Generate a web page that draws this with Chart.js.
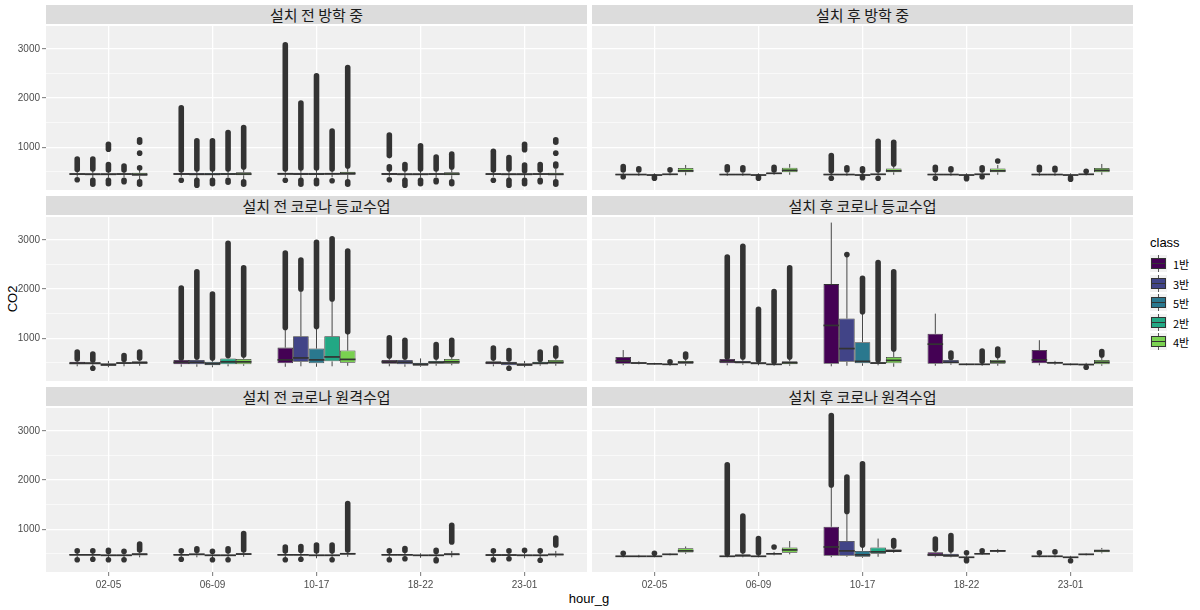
<!DOCTYPE html>
<html>
<head>
<meta charset="utf-8">
<script src="https://cdn.jsdelivr.net/npm/chart.js@4.4.0/dist/chart.umd.min.js"></script>
<style>
  body { margin: 0; background: #fff; width: 1200px; height: 610px; position: relative; overflow: hidden;
         font-family: 'Liberation Sans', Arial, sans-serif; }
  canvas { position: absolute; }
  .strip { position: absolute; height: 19px; background: #DCDCDC; color: #1A1A1A; text-align: center;
           font-family: 'Noto Sans CJK KR', sans-serif; font-size: 15px; line-height: 19px; }
  .axis-title { position: absolute; font-size: 13px; color: #000; white-space: nowrap; }
  #ytitle { left: 12px; top: 299px; transform: translate(-50%, -50%) rotate(-90deg); }
  #xtitle { left: 589px; top: 598px; transform: translate(-50%, -50%); }
  #legend { position: absolute; left: 1150px; top: 235px; width: 50px; }
  #legend .title { font-size: 13px; color: #000; margin-bottom: 4px; }
  .item { position: relative; height: 19.5px; }
  .key { position: absolute; left: 0; top: 1px; width: 17px; height: 17px; background: #F2F2F2; }
  .key .w { position: absolute; left: 8px; width: 1px; height: 17px; background: #555; }
  .key .b { position: absolute; left: 1px; top: 3px; width: 15px; height: 11px; box-sizing: border-box; border: 0.8px solid #333; }
  .key .m { position: absolute; left: 1px; top: 8px; width: 15px; height: 1.4px; background: #333; }
  .item .lab { position: absolute; left: 23px; top: 2px; white-space: nowrap;
               font-family: 'Noto Sans CJK KR', sans-serif; font-size: 11px; color: #000; }
</style>
</head>
<body>
<div id="ytitle" class="axis-title">CO2</div>
<div id="xtitle" class="axis-title">hour_g</div>
<div id="legend"><div class="title">class</div></div>
<script>
const hourGroups = ['02-05', '06-09', '10-17', '18-22', '23-01'];
const classes = ['1반', '3반', '5반', '2반', '4반'];
const classColors = ['#440154', '#414487', '#2A788E', '#22A884', '#7AD151'];
const panelTitles = ['설치 전 방학 중', '설치 후 방학 중', '설치 전 코로나 등교수업',
                     '설치 후 코로나 등교수업', '설치 전 코로나 원격수업', '설치 후 코로나 원격수업'];
const yGrid = [500, 1000, 1500, 2000, 2500, 3000];
const yLabels = [1000, 2000, 3000];

// box stats per class, per hour group: [lower whisker, q1, median, q3, upper whisker]
const statsBeforeVacation = [
  [[400,440,455,470,510],[400,440,455,475,520],[400,440,460,480,530],[400,440,455,475,520],[400,440,455,470,510]],
  [[380,435,450,470,520],[370,435,450,475,530],[370,440,455,480,540],[370,435,450,470,520],[370,435,450,470,520]],
  [[380,435,450,470,520],[380,435,450,475,530],[380,440,455,480,540],[380,435,450,470,520],[380,435,450,470,510]],
  [[390,440,455,470,510],[390,440,455,475,530],[390,440,460,480,540],[390,440,455,470,520],[390,440,455,470,510]],
  [[330,420,445,480,560],[340,430,455,490,570],[340,440,465,500,600],[340,430,455,490,570],[340,430,450,480,560]]
];
// outlier runs per class, per hour group: [from, to]
const outBeforeVacation = [
  [[[550,760],[340,340]],[[540,1800],[330,330]],[[560,3080],[330,330]],[[830,1250],[560,600],[340,340]],[[540,920],[330,330]]],
  [[[560,760],[250,330]],[[560,1130],[230,330]],[[580,1900],[250,330]],[[560,650],[230,330]],[[560,790],[230,330]]],
  [[[960,1060],[540,650],[260,330]],[[560,1130],[260,330]],[[580,2450],[260,330]],[[560,1030],[260,330]],[[950,1060],[520,640],[260,330]]],
  [[[540,620],[300,330]],[[560,1300],[290,330]],[[560,1330],[320,320]],[[560,800],[300,330]],[[540,650],[300,330]]],
  [[[1100,1150],[880,880],[580,580],[250,300]],[[600,1400],[250,300]],[[620,2620],[250,300]],[[600,860],[260,300]],[[1100,1150],[880,880],[620,660],[250,300]]]
];

const statsAfterVacation = [
  [[420,435,445,455,480],[420,435,445,455,480],[420,435,445,455,490],[420,435,445,455,480],[420,435,445,455,480]],
  [[420,435,445,455,480],[420,435,445,455,480],[420,435,445,455,480],[420,435,445,455,480],[420,435,445,455,480]],
  [[400,425,435,445,470],[400,425,435,445,470],[400,425,435,445,470],[400,425,435,445,470],[400,425,435,445,470]],
  [[430,440,450,460,490],[440,455,470,480,510],[430,440,450,460,500],[430,440,450,460,490],[430,440,450,460,490]],
  [[430,490,520,580,640],[440,490,530,585,660],[440,490,520,570,640],[440,490,520,570,640],[440,490,530,580,660]]
];
const outAfterVacation = [
  [[[540,610],[400,400]],[[540,600]],[[520,830],[370,380]],[[540,590],[370,370]],[[540,590]]],
  [[[540,560]],[[540,580]],[[540,580]],[[540,560]],[[540,570]]],
  [[[370,400]],[[370,400]],[[520,560],[380,400]],[[360,390]],[[350,380]]],
  [[[540,550]],[[540,590]],[[540,1120],[370,370]],[[540,580],[400,400]],[[510,520]]],
  [[],[],[[660,1100]],[[720,720]],[]]
];

const statsBeforeSchool = [
  [[430,470,490,520,560],[420,470,510,560,600],[420,490,560,810,1200],[430,480,520,560,620],[430,470,500,530,580]],
  [[420,470,490,510,560],[420,470,510,560,610],[430,520,600,1040,2000],[420,470,510,560,610],[420,450,490,520,560]],
  [[410,440,460,490,540],[410,450,480,520,600],[420,490,560,790,1230],[420,440,470,500,590],[410,440,460,490,540]],
  [[430,480,495,510,560],[430,470,520,590,650],[430,530,620,1040,1800],[440,480,510,540,610],[440,470,490,520,560]],
  [[440,480,500,530,580],[440,470,520,580,650],[440,500,570,750,1120],[450,480,520,580,660],[440,480,510,560,620]]
];
const outBeforeSchool = [
  [[[580,720]],[[600,2020]],[[1220,2730]],[[640,1010]],[[600,800]]],
  [[[560,680],[390,390]],[[620,2350]],[[2000,2590]],[[620,960]],[[580,750],[390,390]]],
  [[],[[600,1900]],[[1240,2950]],[],[]],
  [[[570,650]],[[650,2930]],[[1800,3020]],[[620,870]],[[570,720]]],
  [[[600,720]],[[660,2430]],[[1130,2770]],[[670,960]],[[640,800]]]
];

const statsAfterSchool = [
  [[450,480,540,620,760],[450,490,530,580,600],[430,480,1260,2100,3350],[440,480,880,1090,1500],[450,490,560,760,960]],
  [[470,485,495,510,530],[460,490,510,540,600],[440,520,790,1400,2690],[460,490,510,560,600],[460,485,500,520,540]],
  [[460,470,480,490,500],[450,480,490,510,540],[440,490,530,920,1520],[450,465,470,480,490],[450,465,470,480,490]],
  [[440,460,470,480,500],[440,460,470,480,500],[450,480,495,510,540],[440,460,470,480,510],[430,450,465,480,500]],
  [[440,480,510,540,580],[440,470,500,530,590],[420,490,550,620,760],[440,480,520,560,620],[440,470,510,560,620]]
];
const outAfterSchool = [
  [[],[[620,2650]],[],[],[]],
  [[],[[620,2870]],[[2700,2700]],[[610,700]],[]],
  [[],[[560,1590]],[[1540,2220]],[],[]],
  [[[520,530]],[[520,1950]],[[560,2540]],[[530,740]],[[410,410]]],
  [[[620,680]],[[620,2430]],[[780,2350]],[[650,780]],[[660,730]]]
];

const statsBeforeRemote = [
  [[420,465,480,495,540],[420,465,480,495,540],[420,465,480,495,540],[420,465,480,495,540],[420,460,475,490,540]],
  [[420,465,480,495,540],[430,470,490,505,550],[420,465,480,495,540],[420,465,480,495,540],[420,460,475,490,540]],
  [[410,455,470,485,530],[410,455,470,485,530],[410,455,470,485,530],[420,460,470,480,510],[410,455,470,485,530]],
  [[410,455,470,485,530],[410,455,470,485,530],[410,455,470,485,530],[410,455,470,485,530],[410,455,470,485,530]],
  [[430,470,490,510,560],[440,480,495,510,560],[440,485,500,520,570],[430,475,490,510,560],[430,470,485,505,560]]
];
const outBeforeRemote = [
  [[[560,570],[380,390]],[[560,570],[390,390]],[[560,640],[380,390]],[[560,570],[380,390]],[[560,570],[380,380]]],
  [[[560,570],[390,390]],[[570,600]],[[570,650],[390,390]],[[570,610],[400,400]],[[560,570],[400,400]]],
  [[[550,570],[380,390]],[[550,560],[380,390]],[[560,680]],[],[[570,580]]],
  [[[550,560],[380,390]],[[560,600],[380,390]],[[560,680],[380,390]],[[550,570],[360,380]],[[560,570],[370,380]]],
  [[[580,700]],[[580,910]],[[580,1520]],[[740,1080]],[[680,820]]]
];

const statsAfterRemote = [
  [[430,445,450,460,480],[430,445,450,460,480],[430,460,640,1050,1880],[430,450,480,530,570],[430,445,450,460,480]],
  [[430,445,450,460,480],[430,450,460,490,540],[440,460,560,760,1340],[430,445,460,500,550],[430,445,450,460,480]],
  [[430,445,450,460,480],[430,445,450,460,490],[420,440,480,560,660],[400,420,430,440,460],[400,420,430,440,460]],
  [[470,485,490,500,510],[470,490,500,510,540],[440,500,540,630,810],[480,495,500,510,530],[470,485,490,500,510]],
  [[500,525,560,615,650],[490,520,580,630,760],[520,540,565,590,640],[520,545,560,580,600],[510,530,560,590,620]]
];
const outAfterRemote = [
  [[[510,510]],[[500,2310]],[[1900,3310]],[[600,800]],[[520,520]]],
  [[],[[560,1270]],[[1360,2060]],[[580,870]],[[540,540]]],
  [[[510,510]],[[520,810]],[[680,2330]],[[520,520],[360,380]],[[360,360]]],
  [[],[[640,640]],[],[[560,560]],[]],
  [[],[],[[660,770]],[],[]]
];

const panelStats = [statsBeforeVacation, statsAfterVacation, statsBeforeSchool,
                    statsAfterSchool, statsBeforeRemote, statsAfterRemote];
const panelOuts = [outBeforeVacation, outAfterVacation, outBeforeSchool,
                   outAfterSchool, outBeforeRemote, outAfterRemote];

// layout
const colLeft = [46, 592];
const panelW = 541;
const rowTop = [26, 217, 408];
const panelH = 164;
const stripH = 19;
const stripGap = 2;
const yAxisW = 46;
const xAxisH = 22;
const inkColor = '#333333';

Chart.defaults.font.family = "'Liberation Sans', Arial, sans-serif";

const panelBg = {
  id: 'panelBg',
  beforeDraw(chart) {
    const { ctx, chartArea: a } = chart;
    ctx.save();
    ctx.fillStyle = '#F0F0F0';
    ctx.fillRect(a.left, a.top, a.right - a.left, a.bottom - a.top);
    ctx.restore();
  }
};

// whiskers, outliers and medians placed on each box bar via the y scale
const boxParts = {
  id: 'boxParts',
  beforeDatasetsDraw(chart) {
    const { ctx, chartArea: a } = chart;
    const y = chart.scales.y;
    ctx.save();
    ctx.beginPath();
    ctx.rect(a.left, a.top, a.right - a.left, a.bottom - a.top);
    ctx.clip();
    chart.data.datasets.forEach((ds, k) => {
      chart.getDatasetMeta(k).data.forEach((bar, i) => {
        const s = ds.data[i].stat;
        ctx.strokeStyle = inkColor;
        ctx.lineWidth = 0.9;
        ctx.lineCap = 'butt';
        ctx.beginPath();
        ctx.moveTo(bar.x, y.getPixelForValue(s[0]));
        ctx.lineTo(bar.x, y.getPixelForValue(s[1]));
        ctx.moveTo(bar.x, y.getPixelForValue(s[3]));
        ctx.lineTo(bar.x, y.getPixelForValue(s[4]));
        ctx.stroke();
        ctx.fillStyle = inkColor;
        ds.data[i].out.forEach(([from, to]) => {
          const y0 = y.getPixelForValue(from), y1 = y.getPixelForValue(to);
          if (Math.abs(y1 - y0) < 0.5) {
            ctx.beginPath();
            ctx.arc(bar.x, y0, 2.8, 0, Math.PI * 2);
            ctx.fill();
          } else {
            ctx.lineWidth = 5.6;
            ctx.lineCap = 'round';
            ctx.beginPath();
            ctx.moveTo(bar.x, y0);
            ctx.lineTo(bar.x, y1);
            ctx.stroke();
          }
        });
      });
    });
    ctx.restore();
  },
  afterDatasetsDraw(chart) {
    const { ctx } = chart;
    const y = chart.scales.y;
    ctx.save();
    ctx.strokeStyle = inkColor;
    ctx.lineWidth = 1.7;
    chart.data.datasets.forEach((ds, k) => {
      chart.getDatasetMeta(k).data.forEach((bar, i) => {
        const m = y.getPixelForValue(ds.data[i].stat[2]);
        ctx.beginPath();
        ctx.moveTo(bar.x - bar.width / 2, m);
        ctx.lineTo(bar.x + bar.width / 2, m);
        ctx.stroke();
      });
    });
    ctx.restore();
  }
};

function noLabelPadding(ax) {
  ax.paddingTop = 0;
  ax.paddingBottom = 0;
  ax.paddingLeft = 0;
  ax.paddingRight = 0;
}

function buildPanel(p) {
  const col = p % 2, row = Math.floor(p / 2);
  const showY = col === 0, showX = row === 2;

  const strip = document.createElement('div');
  strip.className = 'strip';
  strip.style.left = colLeft[col] + 'px';
  strip.style.top = (rowTop[row] - stripH - stripGap) + 'px';
  strip.style.width = panelW + 'px';
  strip.textContent = panelTitles[p];
  document.body.appendChild(strip);

  const canvas = document.createElement('canvas');
  const w = panelW + (showY ? yAxisW : 0);
  const h = panelH + (showX ? xAxisH : 0);
  canvas.width = w;
  canvas.height = h;
  canvas.style.left = (colLeft[col] - (showY ? yAxisW : 0)) + 'px';
  canvas.style.top = rowTop[row] + 'px';
  document.body.appendChild(canvas);

  const stats = panelStats[p], outs = panelOuts[p];
  return new Chart(canvas, {
    type: 'bar',
    data: {
      datasets: classes.map((name, k) => ({
        label: name,
        data: stats[k].map((s, i) => ({ x: i + 1, y: [s[1], s[3]], stat: s, out: outs[k][i] })),
        backgroundColor: classColors[k],
        borderColor: inkColor,
        borderWidth: 0.8,
        borderSkipped: false,
        categoryPercentage: 0.75,
        barPercentage: 1
      }))
    },
    options: {
      responsive: false,
      animation: false,
      layout: { padding: 0, autoPadding: false },
      plugins: { legend: { display: false }, tooltip: { enabled: false } },
      scales: {
        x: {
          type: 'linear', min: 0.4, max: 5.6, offset: false,
          afterBuildTicks: ax => { ax.ticks = hourGroups.map((_, i) => ({ value: i + 1 })); },
          afterFit: ax => { ax.height = showX ? xAxisH : 0; noLabelPadding(ax); },
          ticks: {
            display: showX, autoSkip: false, maxRotation: 0, padding: 3,
            color: '#4D4D4D', font: { size: 10 },
            callback: v => hourGroups[v - 1]
          },
          grid: { offset: false, color: '#FFFFFF', lineWidth: 1.3, drawTicks: showX, tickLength: 4,
                  tickColor: '#555555', tickWidth: 0.8 },
          border: { display: false }
        },
        y: {
          min: 131, max: 3464,
          afterBuildTicks: ax => { ax.ticks = yGrid.map(v => ({ value: v })); },
          afterFit: ax => { ax.width = showY ? yAxisW : 0; noLabelPadding(ax); },
          ticks: {
            display: showY, padding: 2, color: '#4D4D4D', font: { size: 10 },
            callback: v => yLabels.includes(v) ? String(v) : ''
          },
          grid: {
            color: '#FFFFFF',
            lineWidth: c => (c.tick && yLabels.includes(c.tick.value)) ? 1.3 : 0.6,
            drawTicks: showY, tickLength: 4, tickWidth: 0.8,
            tickColor: c => (c.tick && yLabels.includes(c.tick.value)) ? '#555555' : 'rgba(0,0,0,0)'
          },
          border: { display: false }
        }
      }
    },
    plugins: [panelBg, boxParts]
  });
}

panelTitles.forEach((_, p) => buildPanel(p));

// legend
const legend = document.getElementById('legend');
classes.forEach((name, k) => {
  const item = document.createElement('div');
  item.className = 'item';
  item.innerHTML = '<div class="key"><div class="w"></div><div class="b"></div><div class="m"></div></div>' +
                   '<div class="lab"></div>';
  item.querySelector('.b').style.background = classColors[k];
  item.querySelector('.lab').textContent = name;
  legend.appendChild(item);
});
</script>
</body>
</html>
